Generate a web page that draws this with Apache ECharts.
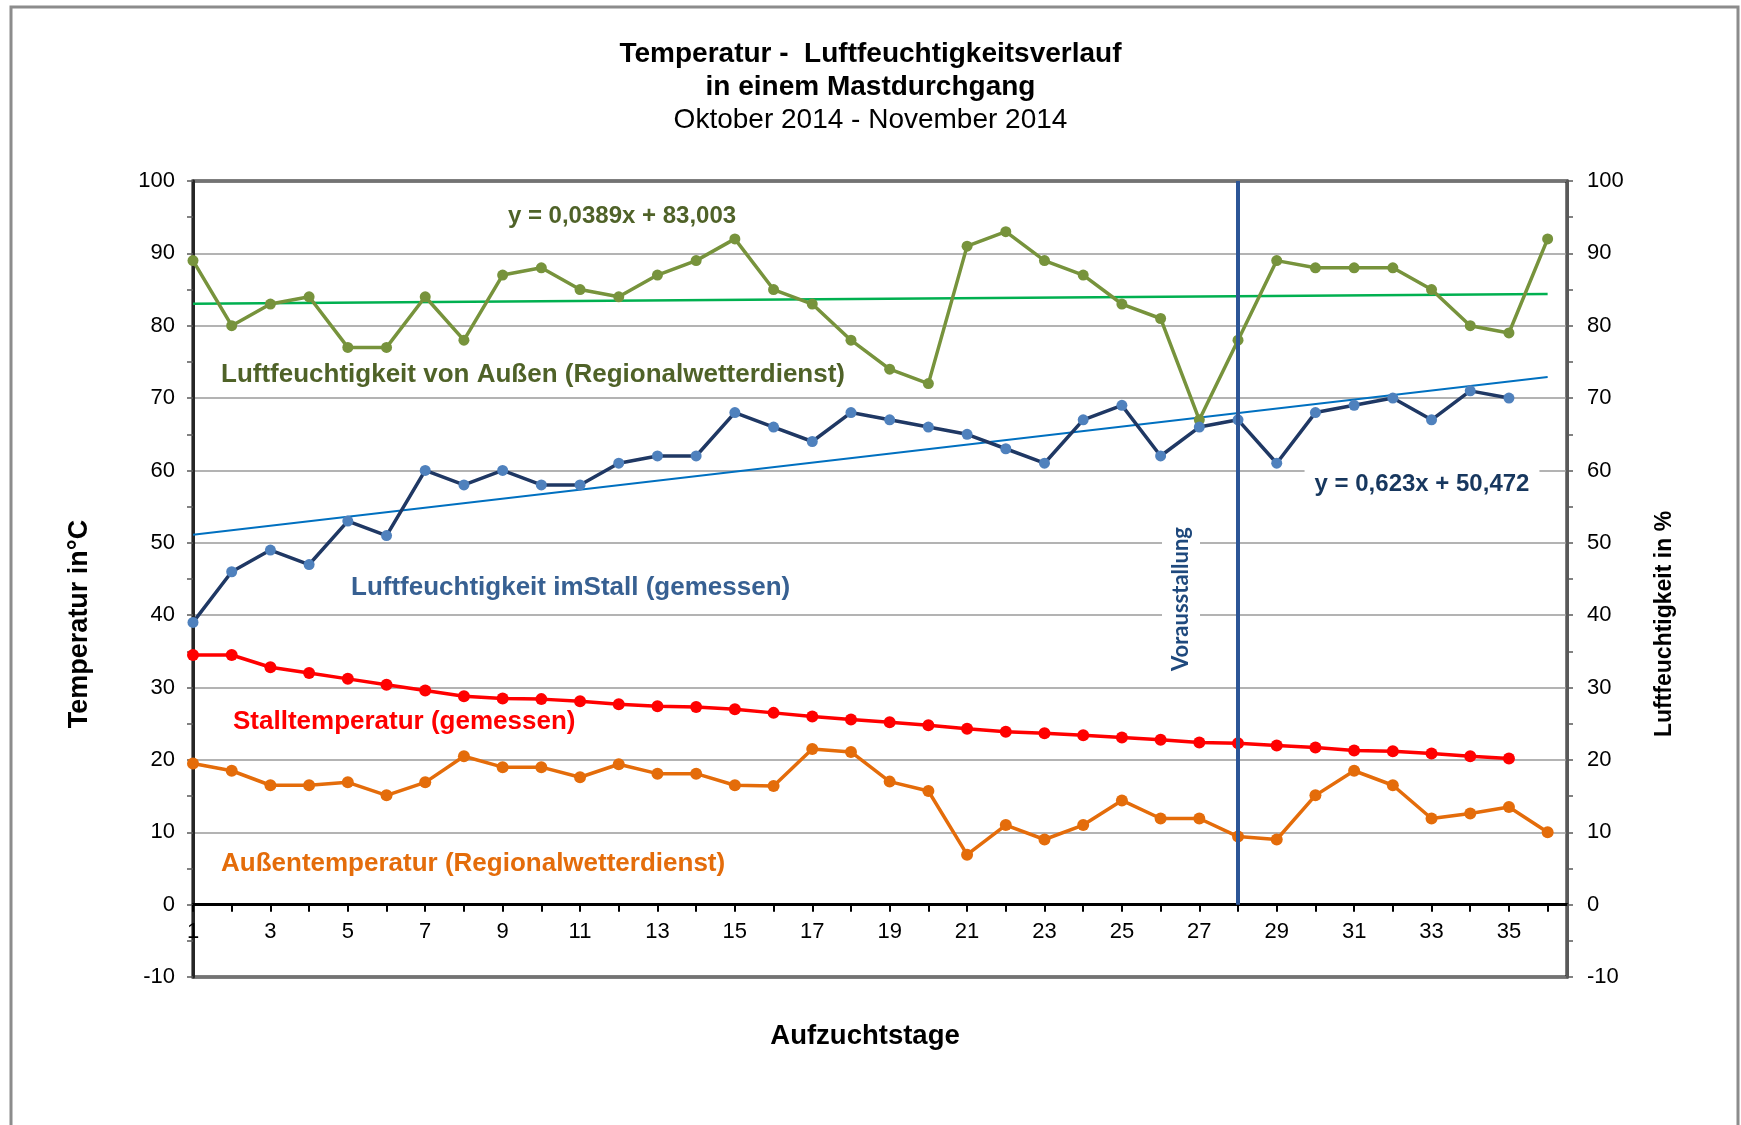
<!DOCTYPE html>
<html>
<head>
<meta charset="utf-8">
<script src="https://cdn.jsdelivr.net/npm/echarts@6/dist/echarts.min.js"></script>
<style>
	html, body { margin: 0; padding: 0; background: #fff; }
	#chart { width: 1741px; height: 1125px; }
</style>
</head>
<body>
<div id="chart"></div>
<script>
// Aufzuchtstage
const days = [1, 2, 3, 4, 5, 6, 7, 8, 9, 10, 11, 12, 13, 14, 15, 16, 17, 18, 19, 20, 21, 22, 23, 24, 25, 26, 27, 28, 29, 30, 31, 32, 33, 34, 35, 36];
const dayLabels = [1, 3, 5, 7, 9, 11, 13, 15, 17, 19, 21, 23, 25, 27, 29, 31, 33, 35];

// Luftfeuchtigkeit in %
const humidityOutside = [89, 80, 83, 84, 77, 77, 84, 78, 87, 88, 85, 84, 87, 89, 92, 85, 83, 78, 74, 72, 91, 93, 89, 87, 83, 81, 67, 78, 89, 88, 88, 88, 85, 80, 79, 92];
const humidityStall = [39, 46, 49, 47, 53, 51, 60, 58, 60, 58, 58, 61, 62, 62, 68, 66, 64, 68, 67, 66, 65, 63, 61, 67, 69, 62, 66, 67, 61, 68, 69, 70, 67, 71, 70];

// Temperatur in °C
const tempStall = [34.5, 34.5, 32.8, 32.0, 31.2, 30.4, 29.6, 28.8, 28.5, 28.4, 28.1, 27.7, 27.4, 27.3, 27.0, 26.5, 26.0, 25.6, 25.2, 24.8, 24.3, 23.9, 23.7, 23.4, 23.1, 22.8, 22.4, 22.3, 22.0, 21.7, 21.3, 21.2, 20.9, 20.5, 20.2];
const tempOutside = [19.5, 18.5, 16.5, 16.5, 16.9, 15.1, 16.9, 20.5, 19.0, 19.0, 17.6, 19.4, 18.1, 18.1, 16.5, 16.4, 21.5, 21.1, 17.0, 15.7, 6.9, 11.0, 9.0, 11.0, 14.4, 11.9, 11.9, 9.4, 9.0, 15.1, 18.5, 16.5, 11.9, 12.6, 13.5, 10.0];

// linear trend lines, end points [day, value]
const trendOutside = [[1, 83.04], [36, 84.40]];
const trendStall = [[1, 51.10], [36, 72.90]];

const vorausstallungDay = 28;

const font = "Liberation Sans";

function pairs(values) {
	return values.map((v, i) => [days[i], v]);
}

const chartDom = document.getElementById("chart");
const myChart = echarts.init(chartDom);

// grid 181..977 for -10..100, x axis sits on the 0 line
const gridHeight = 796;
const zeroOffset = -gridHeight * 10 / 110;

const option = {
	animation: false,
	backgroundColor: "#fff",
	title: {
		text: "Temperatur -  Luftfeuchtigkeitsverlauf\nin einem Mastdurchgang",
		subtext: "Oktober 2014 - November 2014",
		left: "center",
		top: 33,
		itemGap: 0,
		textStyle: { fontFamily: font, fontSize: 28, fontWeight: "bold", color: "#000", lineHeight: 33 },
		subtextStyle: { fontFamily: font, fontSize: 28, color: "#000", lineHeight: 33 },
	},
	grid: {
		left: 193,
		top: 181,
		width: 1374,
		height: gridHeight,
		show: true,
		borderColor: "#000",
		borderWidth: 3,
	},
	xAxis: {
		type: "value",
		min: 1,
		max: 36.5,
		interval: 1,
		offset: zeroOffset,
		axisLine: { onZero: false, lineStyle: { color: "#000", width: 3 } },
		axisTick: { show: true, inside: false, length: 7, customValues: days, lineStyle: { color: "#000", width: 2 } },
		axisLabel: { customValues: dayLabels, margin: 16, fontFamily: font, fontSize: 22, color: "#000" },
		splitLine: { show: false },
	},
	yAxis: [
		{
			type: "value",
			min: -10,
			max: 100,
			interval: 10,
			axisLine: { show: true, lineStyle: { color: "#262626", width: 3 } },
			axisTick: { show: true, length: 6, lineStyle: { color: "#595959", width: 1.5 } },
			minorTick: { show: true, splitNumber: 2, length: 6, lineStyle: { color: "#595959", width: 1.5 } },
			axisLabel: { margin: 18, fontFamily: font, fontSize: 22, color: "#000" },
			splitLine: { show: true, lineStyle: { color: "#9a9a9a", width: 1.5 } },
		},
		{
			type: "value",
			position: "right",
			min: -10,
			max: 100,
			interval: 10,
			axisLine: { show: true, lineStyle: { color: "#595959", width: 3 } },
			axisTick: { show: true, length: 6, lineStyle: { color: "#595959", width: 1.5 } },
			minorTick: { show: true, splitNumber: 2, length: 6, lineStyle: { color: "#595959", width: 1.5 } },
			axisLabel: { margin: 20, fontFamily: font, fontSize: 22, color: "#000" },
			splitLine: { show: false },
		},
	],
	series: [
		{
			name: "Trend Luftfeuchtigkeit außen",
			type: "line",
			yAxisIndex: 1,
			data: trendOutside,
			showSymbol: false,
			lineStyle: { color: "#00b050", width: 2.5 },
			z: 2,
		},
		{
			name: "Trend Luftfeuchtigkeit Stall",
			type: "line",
			yAxisIndex: 1,
			data: trendStall,
			showSymbol: false,
			lineStyle: { color: "#0070c0", width: 2 },
			z: 2,
		},
		{
			name: "Luftfeuchtigkeit von Außen",
			type: "line",
			yAxisIndex: 1,
			data: pairs(humidityOutside),
			symbol: "circle",
			symbolSize: 11,
			lineStyle: { color: "#77933c", width: 3.5 },
			itemStyle: { color: "#77933c" },
			z: 3,
		},
		{
			name: "Luftfeuchtigkeit im Stall",
			type: "line",
			yAxisIndex: 1,
			data: pairs(humidityStall),
			symbol: "circle",
			symbolSize: 11,
			lineStyle: { color: "#1f3864", width: 3.5 },
			itemStyle: { color: "#4f81bd" },
			z: 3,
		},
		{
			name: "Stalltemperatur",
			type: "line",
			yAxisIndex: 0,
			data: pairs(tempStall),
			symbol: "circle",
			symbolSize: 12,
			lineStyle: { color: "#ff0000", width: 3.5 },
			itemStyle: { color: "#ff0000" },
			z: 3,
			markLine: {
				silent: true,
				symbol: "none",
				label: { show: false },
				lineStyle: { color: "#2c5596", width: 4, type: "solid" },
				data: [[{ coord: [vorausstallungDay, 100] }, { coord: [vorausstallungDay, 0] }]],
			},
		},
		{
			name: "Außentemperatur",
			type: "line",
			yAxisIndex: 0,
			data: pairs(tempOutside),
			symbol: "circle",
			symbolSize: 12,
			lineStyle: { color: "#e46c0a", width: 3.5 },
			itemStyle: { color: "#e46c0a" },
			z: 3,
		},
	],
	graphic: [
		{
			type: "rect",
			shape: { x: 11, y: 7, width: 1727, height: 1130 },
			style: { fill: "none", stroke: "#8c8c8c", lineWidth: 3 },
			silent: true,
		},
		{
			type: "text",
			x: 80, y: 624, rotation: Math.PI / 2,
			style: { text: "Temperatur in°C", fontFamily: font, fontSize: 27, fontWeight: "bold", fill: "#000", align: "center", verticalAlign: "middle" },
		},
		{
			type: "text",
			x: 1665, y: 624, rotation: Math.PI / 2,
			style: { text: "Luftfeuchtigkeit in %", fontFamily: font, fontSize: 23, fontWeight: "bold", fill: "#000", align: "center", verticalAlign: "middle" },
		},
		{
			type: "text",
			x: 865, y: 1036,
			style: { text: "Aufzuchtstage", fontFamily: font, fontSize: 27.5, fontWeight: "bold", fill: "#000", align: "center", verticalAlign: "middle" },
		},
		{
			type: "text",
			x: 1181, y: 599, rotation: Math.PI / 2, z: 10,
			style: { text: "Vorausstallung", fontFamily: "Lato", fontSize: 22, fontWeight: "bold", fill: "#1f497d", align: "center", verticalAlign: "middle", backgroundColor: "#fff", padding: [8, 8] },
		},
		{
			type: "text",
			x: 622, y: 216,
			style: { text: "y = 0,0389x + 83,003", fontFamily: font, fontSize: 24, fontWeight: "bold", fill: "#4f6228", align: "center", verticalAlign: "middle" },
		},
		{
			type: "text",
			x: 1422, y: 484, z: 10,
			style: { text: "y = 0,623x + 50,472", fontFamily: font, fontSize: 24, fontWeight: "bold", fill: "#17375e", align: "center", verticalAlign: "middle", backgroundColor: "#fff", padding: [6, 10] },
		},
		{
			type: "text",
			x: 221, y: 375,
			style: { text: "Luftfeuchtigkeit von Außen (Regionalwetterdienst)", fontFamily: font, fontSize: 26, fontWeight: "bold", fill: "#4f6228", align: "left", verticalAlign: "middle" },
		},
		{
			type: "text",
			x: 351, y: 588,
			style: { text: "Luftfeuchtigkeit imStall (gemessen)", fontFamily: font, fontSize: 26, fontWeight: "bold", fill: "#376092", align: "left", verticalAlign: "middle" },
		},
		{
			type: "text",
			x: 233, y: 722,
			style: { text: "Stalltemperatur (gemessen)", fontFamily: font, fontSize: 26, fontWeight: "bold", fill: "#ff0000", align: "left", verticalAlign: "middle" },
		},
		{
			type: "text",
			x: 221, y: 864,
			style: { text: "Außentemperatur (Regionalwetterdienst)", fontFamily: font, fontSize: 26, fontWeight: "bold", fill: "#e46c0a", align: "left", verticalAlign: "middle" },
		},
	],
};

myChart.setOption(option);
</script>
</body>
</html>
